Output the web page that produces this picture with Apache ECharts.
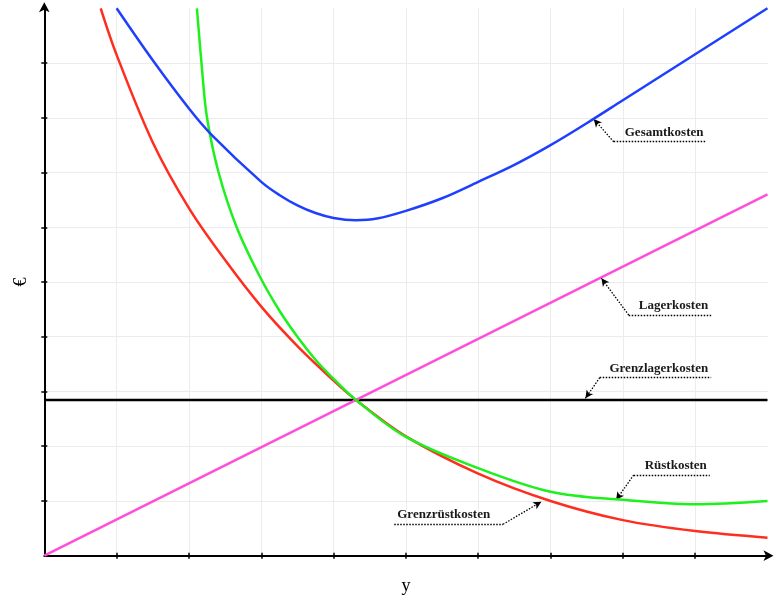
<!DOCTYPE html>
<html>
<head>
<meta charset="utf-8">
<script src="https://cdn.jsdelivr.net/npm/echarts@6/dist/echarts.min.js"></script>
<style>html,body{margin:0;padding:0;background:#fff}#c{width:777px;height:600px}</style>
</head>
<body>
<div id="c"></div>
<script>
// Lagerkosten (linear)
const xLager = [0, 10];
const lager = [0, 6.6];
// Grenzlagerkosten (constant)
const xGrenzLager = [0, 10];
const grenzLager = [2.845, 2.845];
// Grenzrüstkosten (red)
const xRed = [0.78, 1.0, 1.5, 2.0, 2.5, 3.0, 3.5, 4.0, 4.31, 5, 6, 7, 8, 9, 10];
const red = [10, 9.15, 7.55, 6.35, 5.4, 4.55, 3.83, 3.2, 2.845, 2.18, 1.5, 1.0, 0.65, 0.45, 0.33];
// Rüstkosten (green)
const xGreen = [2.11, 2.18, 2.25, 2.41, 2.66, 2.98, 3.25, 3.5, 3.75, 4.0, 4.31, 5, 6, 7, 8, 9, 10];
const green = [10, 8.9, 8.0, 7.0, 6.0, 5.1, 4.48, 4.0, 3.58, 3.23, 2.845, 2.17, 1.6, 1.17, 1.02, 0.94, 1.0];
// Gesamtkosten (blue)
const xBlue = [1.0, 1.5, 2.0, 2.32, 3.0, 3.25, 3.5, 3.75, 4.0, 4.31, 4.6, 5, 5.5, 6, 6.5, 7, 7.5, 8, 9, 10];
const blue = [10, 9.05, 8.17, 7.68, 6.83, 6.59, 6.40, 6.26, 6.17, 6.13, 6.16, 6.30, 6.53, 6.83, 7.14, 7.5, 7.9, 8.32, 9.16, 10];
// tick values
const tickValues = [1, 2, 3, 4, 5, 6, 7, 8, 9];
// annotations: label, arrow tip, corner, underline end (data coordinates)
const annLabels = ['Gesamtkosten', 'Lagerkosten', 'Grenzlagerkosten', 'Rüstkosten', 'Grenzrüstkosten'];
const annTip = [[7.597, 7.977], [7.703, 5.068], [7.482, 2.875], [7.906, 1.018], [6.873, 0.986]];
const annCorner = [[7.873, 7.563], [8.081, 4.397], [7.680, 3.252], [8.150, 1.474], [6.343, 0.574]];
const annEnd = [[9.156, 7.563], [9.221, 4.397], [9.221, 3.252], [9.202, 1.474], [4.839, 0.574]];

const zip = (xs, ys) => xs.map((x, i) => [x, ys[i]]);
const lw = 2.5;
const labelFont = {fontFamily: 'Liberation Serif', fontWeight: 'bold', fontSize: 13, color: '#1a1a1a'};

const annData = [];
annLabels.forEach((t, i) => {
  const leftSide = annEnd[i][0] < annCorner[i][0];
  annData.push([
    {coord: leftSide ? annEnd[i] : annCorner[i], symbol: 'none',
     label: {show: true, formatter: t, position: leftSide ? 'insideStartTop' : 'insideEndTop', distance: 3, ...labelFont}},
    {coord: leftSide ? annCorner[i] : annEnd[i], symbol: 'none'}
  ]);
  annData.push([
    {coord: annCorner[i], symbol: 'none', label: {show: false}},
    {coord: annTip[i], symbol: 'arrow', symbolSize: [6, 8], label: {show: false}}
  ]);
});

const chart = echarts.init(document.getElementById('c'), null, {renderer: 'canvas'});
const axisLineStyle = {color: '#000', width: 2};
chart.setOption({
  animation: false,
  backgroundColor: '#fff',
  grid: {left: 44.3, right: 9.5, top: 8.3, bottom: 44.3, containLabel: false, outerBoundsMode: 'none'},
  xAxis: [{
    type: 'value', min: 0, max: 10, interval: 1,
    name: 'y', nameLocation: 'middle', nameGap: 22,
    nameTextStyle: {fontFamily: 'Liberation Serif', fontSize: 18, color: '#000'},
    axisLine: {show: true, lineStyle: axisLineStyle, symbol: ['none', 'arrow'], symbolSize: [8, 10], symbolOffset: [0, 6]},
    axisTick: {show: true, inside: true, length: 3, customValues: tickValues, lineStyle: {color: '#000', width: 1.5}},
    axisLabel: {show: false},
    splitLine: {show: true, lineStyle: {color: '#ececec', width: 1}}
  }, {
    type: 'value', min: 0, max: 10, interval: 1, position: 'bottom',
    axisLine: {show: false},
    axisTick: {show: true, inside: false, length: 3, customValues: tickValues, lineStyle: {color: '#000', width: 1.5}},
    axisLabel: {show: false}, splitLine: {show: false}
  }],
  yAxis: [{
    type: 'value', min: 0, max: 10, interval: 1,
    name: '€', nameLocation: 'middle', nameGap: 14, nameRotate: 90,
    nameTextStyle: {fontFamily: 'Liberation Serif', fontSize: 18, color: '#000'},
    axisLine: {show: true, lineStyle: axisLineStyle, symbol: ['none', 'arrow'], symbolSize: [8, 10], symbolOffset: [0, 6]},
    axisTick: {show: true, inside: true, length: 3, customValues: tickValues, lineStyle: {color: '#000', width: 1.5}},
    axisLabel: {show: false},
    splitLine: {show: true, lineStyle: {color: '#ececec', width: 1}}
  }, {
    type: 'value', min: 0, max: 10, interval: 1, position: 'left',
    axisLine: {show: false},
    axisTick: {show: true, inside: false, length: 3, customValues: tickValues, lineStyle: {color: '#000', width: 1.5}},
    axisLabel: {show: false}, splitLine: {show: false}
  }],
  series: [
    {name: 'Grenzlagerkosten', type: 'line', data: zip(xGrenzLager, grenzLager), showSymbol: false,
     lineStyle: {color: '#000', width: lw}, z: 2},
    {name: 'Lagerkosten', type: 'line', data: zip(xLager, lager), showSymbol: false,
     lineStyle: {color: '#ff4fd8', width: lw}, z: 3},
    {name: 'Grenzrüstkosten', type: 'line', data: zip(xRed, red), showSymbol: false, smooth: 0.35,
     lineStyle: {color: '#ff2d1f', width: lw}, z: 4},
    {name: 'Rüstkosten', type: 'line', data: zip(xGreen, green), showSymbol: false, smooth: 0.35,
     lineStyle: {color: '#1ef01e', width: lw}, z: 5},
    {name: 'Gesamtkosten', type: 'line', data: zip(xBlue, blue), showSymbol: false, smooth: 0.35,
     lineStyle: {color: '#1f3fff', width: lw}, z: 6},
    {name: 'ann', type: 'line', data: [], z: 7,
     markLine: {silent: true, animation: false, symbol: 'none',
       lineStyle: {color: '#000', type: [1.5, 1.5], width: 1.3},
       label: {show: false},
       data: annData}}
  ]
});
</script>
</body>
</html>
